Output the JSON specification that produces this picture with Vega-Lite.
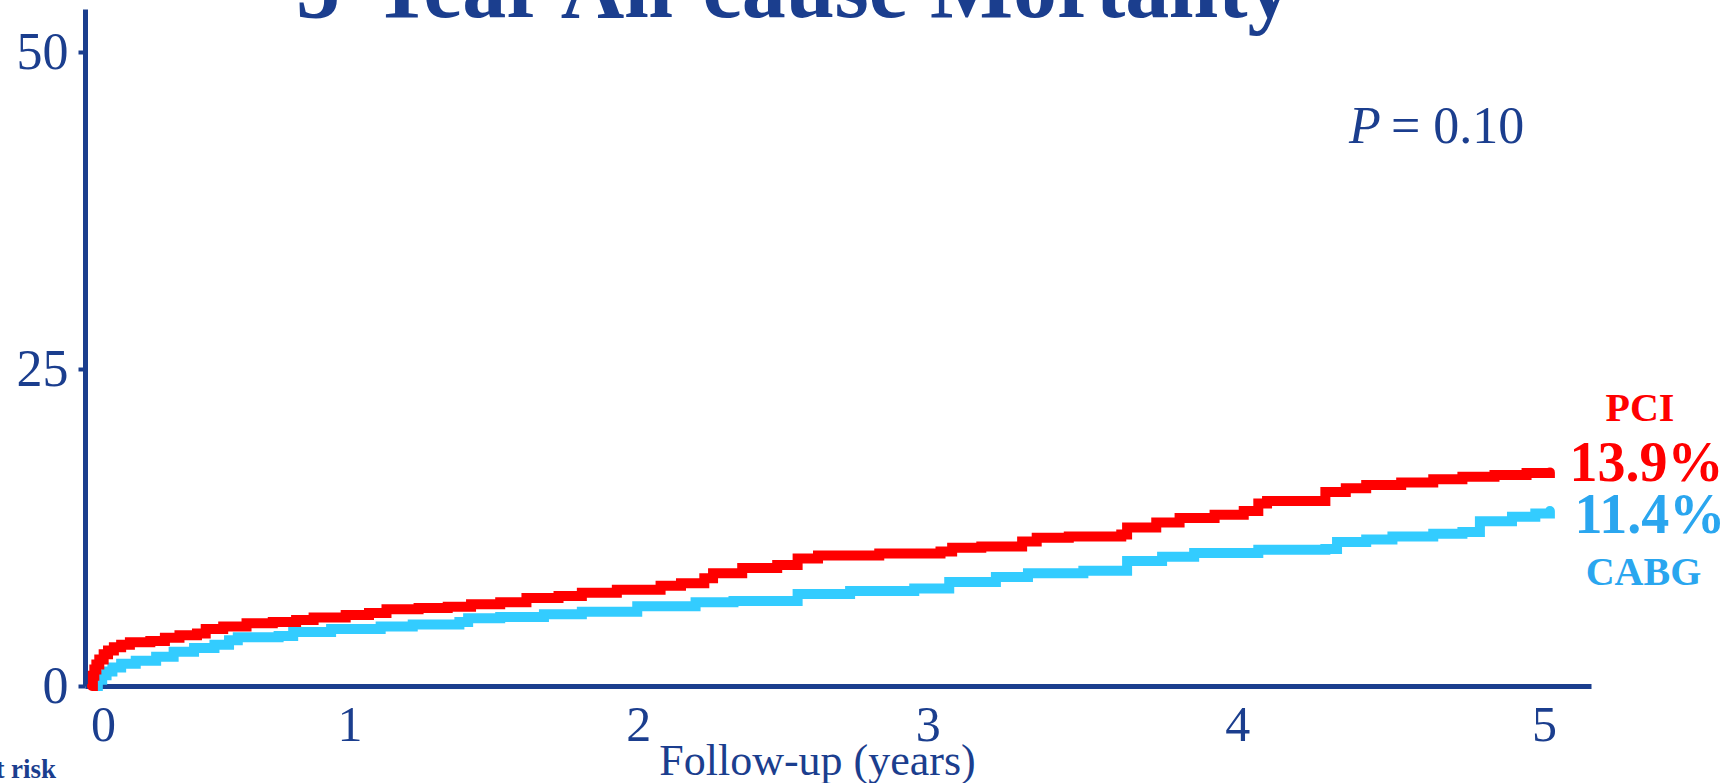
{
  "$schema": "https://vega.github.io/schema/vega-lite/v6.json",
  "width": 1506,
  "height": 677,
  "autosize": {"type": "none"},
  "padding": {"left": 85, "top": 9, "right": 135, "bottom": 97},
  "background": "white",
  "config": {"view": {"stroke": null}, "font": "Liberation Serif"},
  "datasets": {
    "curves": [
      {"group": "CABG", "years": 0.01, "mortality": 0},
      {"group": "CABG", "years": 0.02, "mortality": 0.5},
      {"group": "CABG", "years": 0.035, "mortality": 0.85},
      {"group": "CABG", "years": 0.05, "mortality": 1.15},
      {"group": "CABG", "years": 0.07, "mortality": 1.45},
      {"group": "CABG", "years": 0.1, "mortality": 1.75},
      {"group": "CABG", "years": 0.15, "mortality": 2.0},
      {"group": "CABG", "years": 0.22, "mortality": 2.3},
      {"group": "CABG", "years": 0.28, "mortality": 2.7},
      {"group": "CABG", "years": 0.35, "mortality": 3.0},
      {"group": "CABG", "years": 0.42, "mortality": 3.25},
      {"group": "CABG", "years": 0.47, "mortality": 3.6},
      {"group": "CABG", "years": 0.5, "mortality": 3.85},
      {"group": "CABG", "years": 0.64, "mortality": 3.95},
      {"group": "CABG", "years": 0.69, "mortality": 4.25},
      {"group": "CABG", "years": 0.82, "mortality": 4.5},
      {"group": "CABG", "years": 0.99, "mortality": 4.7},
      {"group": "CABG", "years": 1.1, "mortality": 4.85},
      {"group": "CABG", "years": 1.26, "mortality": 5.05},
      {"group": "CABG", "years": 1.29, "mortality": 5.35},
      {"group": "CABG", "years": 1.4, "mortality": 5.45},
      {"group": "CABG", "years": 1.55, "mortality": 5.65},
      {"group": "CABG", "years": 1.68, "mortality": 5.85},
      {"group": "CABG", "years": 1.87, "mortality": 6.3},
      {"group": "CABG", "years": 2.07, "mortality": 6.6},
      {"group": "CABG", "years": 2.2, "mortality": 6.7},
      {"group": "CABG", "years": 2.42, "mortality": 7.25},
      {"group": "CABG", "years": 2.6, "mortality": 7.5},
      {"group": "CABG", "years": 2.82, "mortality": 7.7},
      {"group": "CABG", "years": 2.94, "mortality": 8.2},
      {"group": "CABG", "years": 3.1, "mortality": 8.6},
      {"group": "CABG", "years": 3.21, "mortality": 8.9},
      {"group": "CABG", "years": 3.4, "mortality": 9.1},
      {"group": "CABG", "years": 3.55, "mortality": 9.85},
      {"group": "CABG", "years": 3.67, "mortality": 10.2},
      {"group": "CABG", "years": 3.78, "mortality": 10.5},
      {"group": "CABG", "years": 4.0, "mortality": 10.75},
      {"group": "CABG", "years": 4.23, "mortality": 10.8},
      {"group": "CABG", "years": 4.27, "mortality": 11.35},
      {"group": "CABG", "years": 4.37, "mortality": 11.55},
      {"group": "CABG", "years": 4.46, "mortality": 11.8},
      {"group": "CABG", "years": 4.6, "mortality": 12.0},
      {"group": "CABG", "years": 4.7, "mortality": 12.15},
      {"group": "CABG", "years": 4.76, "mortality": 13.0},
      {"group": "CABG", "years": 4.87, "mortality": 13.35},
      {"group": "CABG", "years": 4.95, "mortality": 13.6},
      {"group": "CABG", "years": 5.0, "mortality": 13.8},
      {"group": "PCI", "years": 0, "mortality": 0},
      {"group": "PCI", "years": 0.003, "mortality": 0.8},
      {"group": "PCI", "years": 0.008, "mortality": 1.3},
      {"group": "PCI", "years": 0.015, "mortality": 1.7},
      {"group": "PCI", "years": 0.025, "mortality": 2.1},
      {"group": "PCI", "years": 0.04, "mortality": 2.5},
      {"group": "PCI", "years": 0.055, "mortality": 2.8},
      {"group": "PCI", "years": 0.075, "mortality": 3.05},
      {"group": "PCI", "years": 0.1, "mortality": 3.25},
      {"group": "PCI", "years": 0.13, "mortality": 3.45},
      {"group": "PCI", "years": 0.2, "mortality": 3.55},
      {"group": "PCI", "years": 0.25, "mortality": 3.8},
      {"group": "PCI", "years": 0.3, "mortality": 4.0},
      {"group": "PCI", "years": 0.36, "mortality": 4.15},
      {"group": "PCI", "years": 0.39, "mortality": 4.5},
      {"group": "PCI", "years": 0.45, "mortality": 4.7},
      {"group": "PCI", "years": 0.53, "mortality": 4.95},
      {"group": "PCI", "years": 0.62, "mortality": 5.05},
      {"group": "PCI", "years": 0.7, "mortality": 5.2},
      {"group": "PCI", "years": 0.76, "mortality": 5.4},
      {"group": "PCI", "years": 0.87, "mortality": 5.6},
      {"group": "PCI", "years": 0.95, "mortality": 5.75},
      {"group": "PCI", "years": 1.01, "mortality": 6.05},
      {"group": "PCI", "years": 1.12, "mortality": 6.15},
      {"group": "PCI", "years": 1.22, "mortality": 6.25},
      {"group": "PCI", "years": 1.3, "mortality": 6.45},
      {"group": "PCI", "years": 1.4, "mortality": 6.6},
      {"group": "PCI", "years": 1.49, "mortality": 6.95},
      {"group": "PCI", "years": 1.6, "mortality": 7.1},
      {"group": "PCI", "years": 1.68, "mortality": 7.35},
      {"group": "PCI", "years": 1.8, "mortality": 7.6},
      {"group": "PCI", "years": 1.95, "mortality": 7.9},
      {"group": "PCI", "years": 2.02, "mortality": 8.1},
      {"group": "PCI", "years": 2.1, "mortality": 8.5},
      {"group": "PCI", "years": 2.13, "mortality": 8.9},
      {"group": "PCI", "years": 2.23, "mortality": 9.3},
      {"group": "PCI", "years": 2.35, "mortality": 9.55},
      {"group": "PCI", "years": 2.42, "mortality": 10.05},
      {"group": "PCI", "years": 2.49, "mortality": 10.3},
      {"group": "PCI", "years": 2.7, "mortality": 10.45},
      {"group": "PCI", "years": 2.91, "mortality": 10.6},
      {"group": "PCI", "years": 2.95, "mortality": 10.9},
      {"group": "PCI", "years": 3.05, "mortality": 11.0},
      {"group": "PCI", "years": 3.19, "mortality": 11.4},
      {"group": "PCI", "years": 3.24, "mortality": 11.7},
      {"group": "PCI", "years": 3.35, "mortality": 11.8},
      {"group": "PCI", "years": 3.53, "mortality": 11.95},
      {"group": "PCI", "years": 3.55, "mortality": 12.5},
      {"group": "PCI", "years": 3.65, "mortality": 12.9},
      {"group": "PCI", "years": 3.73, "mortality": 13.25},
      {"group": "PCI", "years": 3.85, "mortality": 13.5},
      {"group": "PCI", "years": 3.95, "mortality": 13.8},
      {"group": "PCI", "years": 4.0, "mortality": 14.4},
      {"group": "PCI", "years": 4.03, "mortality": 14.6},
      {"group": "PCI", "years": 4.23, "mortality": 15.3},
      {"group": "PCI", "years": 4.3, "mortality": 15.6},
      {"group": "PCI", "years": 4.37, "mortality": 15.85},
      {"group": "PCI", "years": 4.49, "mortality": 16.05},
      {"group": "PCI", "years": 4.6, "mortality": 16.3},
      {"group": "PCI", "years": 4.7, "mortality": 16.5},
      {"group": "PCI", "years": 4.81, "mortality": 16.65},
      {"group": "PCI", "years": 4.92, "mortality": 16.8},
      {"group": "PCI", "years": 5.0, "mortality": 16.85}
    ]
  },
  "layer": [
    {
      "data": {"name": "curves"},
      "mark": {"type": "line", "interpolate": "step-after", "strokeWidth": 10, "strokeCap": "round"},
      "encoding": {
        "x": {
          "field": "years",
          "type": "quantitative",
          "scale": {"domain": [-0.024, 5.141], "nice": false, "zero": false},
          "axis": {
            "values": [0, 1, 2, 3, 4, 5],
            "format": "d",
            "grid": false,
            "domainColor": "#1B3E8E",
            "domainWidth": 5,
            "ticks": false,
            "tickSize": 0,
            "labelFont": "Liberation Serif",
            "labelFontSize": 50,
            "labelColor": "#1B3E8E",
            "labelPadding": 14,
            "labelBaseline": "top",
            "labelFlush": false,
            "labelOverlap": false,
            "labelBound": false,
            "labelOffset": {"expr": "datum.value == 0 ? 11 : datum.value == 1 ? -34 : datum.value == 2 ? -37 : datum.value == 3 ? -39 : datum.value == 4 ? -21 : -6"},
            "title": "Follow-up (years)",
            "titleFont": "Liberation Serif",
            "titleFontSize": 44,
            "titleFontWeight": "normal",
            "titleColor": "#1B3E8E",
            "titleX": 732,
            "titleY": 88,
            "titleAlign": "center",
            "titleBaseline": "alphabetic"
          }
        },
        "y": {
          "field": "mortality",
          "type": "quantitative",
          "scale": {"domain": [0, 53.4], "nice": false},
          "axis": {
            "values": [0, 25, 50],
            "grid": false,
            "domainColor": "#1B3E8E",
            "domainWidth": 5,
            "ticks": true,
            "tickSize": 7,
            "tickWidth": 4,
            "tickColor": "#1B3E8E",
            "labelFont": "Liberation Serif",
            "labelFontSize": 52,
            "labelColor": "#1B3E8E",
            "labelPadding": 10,
            "labelBaseline": "middle",
            "labelFlush": false,
            "labelOverlap": false,
            "labelBound": false,
            "title": null
          }
        },
        "color": {
          "field": "group",
          "type": "nominal",
          "scale": {"domain": ["CABG", "PCI"], "range": ["#33CCFF", "#FF0000"]},
          "legend": null
        }
      }
    },
    {
      "data": {"values": [{"label": "5-Year All-cause Mortality"}]},
      "mark": {"type": "text", "font": "Liberation Serif", "fontWeight": "bold", "fontSize": 88, "color": "#1B3E8E", "align": "center", "baseline": "alphabetic"},
      "encoding": {"x": {"datum": 2.407}, "y": {"datum": 52.8}, "text": {"field": "label"}}
    },
    {
      "data": {"values": [{"label": "PCI"}]},
      "mark": {"type": "text", "font": "Liberation Serif", "fontWeight": "bold", "fontSize": 40, "color": "#FF0000", "align": "center", "baseline": "alphabetic"},
      "encoding": {"x": {"datum": 5.309}, "y": {"datum": 20.9}, "text": {"field": "label"}}
    },
    {
      "data": {"values": [{"label": "13.9%"}]},
      "mark": {"type": "text", "font": "Liberation Serif", "fontWeight": "bold", "fontSize": 56, "color": "#FF0000", "align": "center", "baseline": "alphabetic"},
      "encoding": {"x": {"datum": 5.331}, "y": {"datum": 16.17}, "text": {"field": "label"}}
    },
    {
      "data": {"values": [{"label": "11.4%"}]},
      "mark": {"type": "text", "font": "Liberation Serif", "fontWeight": "bold", "fontSize": 56, "color": "#2AA6EF", "align": "center", "baseline": "alphabetic"},
      "encoding": {"x": {"datum": 5.343}, "y": {"datum": 12.07}, "text": {"field": "label"}}
    },
    {
      "data": {"values": [{"label": "CABG"}]},
      "mark": {"type": "text", "font": "Liberation Serif", "fontWeight": "bold", "fontSize": 40, "color": "#2AA6EF", "align": "center", "baseline": "alphabetic"},
      "encoding": {"x": {"datum": 5.321}, "y": {"datum": 7.97}, "text": {"field": "label"}}
    },
    {
      "data": {"values": [{"label": "P"}]},
      "mark": {"type": "text", "font": "Liberation Serif", "fontStyle": "italic", "fontSize": 52, "color": "#1B3E8E", "align": "right", "baseline": "alphabetic"},
      "encoding": {"x": {"datum": 4.42}, "y": {"datum": 42.82}, "text": {"field": "label"}}
    },
    {
      "data": {"values": [{"label": "= 0.10"}]},
      "mark": {"type": "text", "font": "Liberation Serif", "fontSize": 52, "color": "#1B3E8E", "align": "left", "baseline": "alphabetic"},
      "encoding": {"x": {"datum": 4.455}, "y": {"datum": 42.82}, "text": {"field": "label"}}
    },
    {
      "data": {"values": [{"label": "at risk"}]},
      "mark": {"type": "text", "font": "Liberation Serif", "fontWeight": "bold", "fontSize": 27, "color": "#1B3E8E", "align": "right", "baseline": "alphabetic"},
      "encoding": {"x": {"datum": -0.123}, "y": {"datum": -7.26}, "text": {"field": "label"}}
    }
  ]
}
